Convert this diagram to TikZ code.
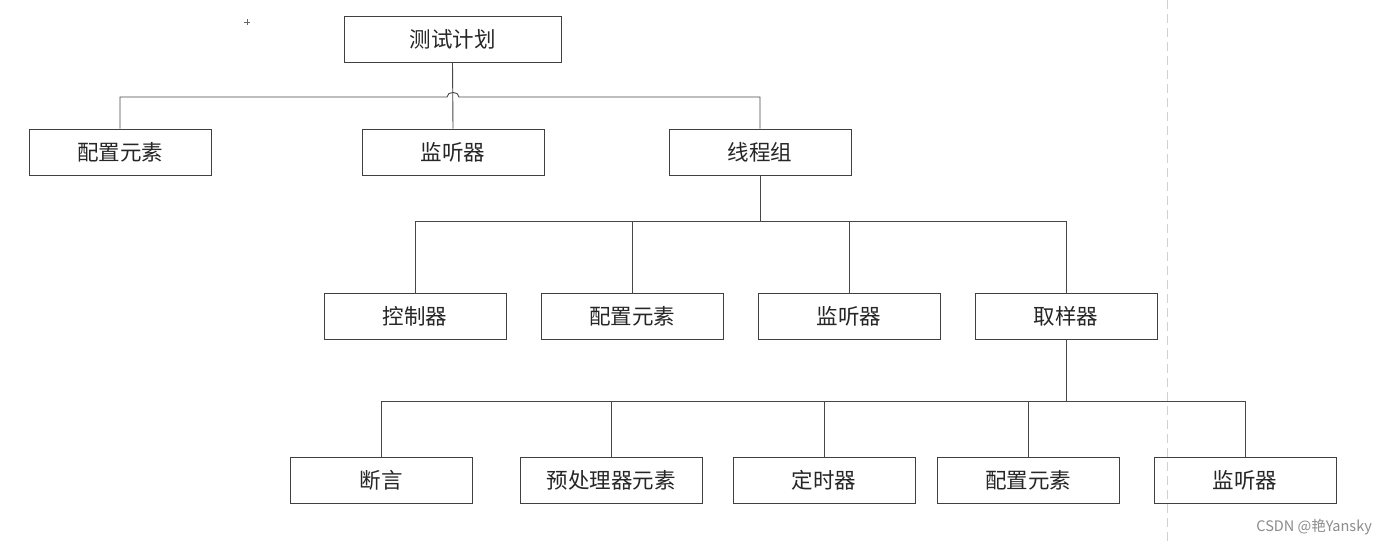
\documentclass[tikz,border=0pt]{standalone}
\usepackage{fontspec}
\setmainfont{Noto Sans CJK SC}
\begin{document}
\begin{tikzpicture}[x=1pt,y=-1pt,
  box/.style={draw=black!75,line width=0.9pt,minimum width=182pt,minimum height=46pt,inner sep=0pt,font=\fontsize{21.5}{23}\selectfont,text=black!85},
  link/.style={draw=black!72,line width=0.9pt}]
\useasboundingbox[fill=white] (0,0) rectangle (1387,544);
\draw[black!18,line width=1pt,dash pattern=on 9pt off 5pt] (1167,0) -- (1167,544);
\draw[black!60,line width=0.8pt] (244,22) -- (250,22) (247,19) -- (247,25);
% level 0
\node[box,minimum width=217pt] (tp) at (452.5,39) {测试计划};
% level 1
\node[box] (c1) at (120,152) {配置元素};
\node[box] (l1) at (453,152) {监听器};
\node[box] (tg) at (760,152) {线程组};
% level 2
\node[box] (ctrl) at (415,316) {控制器};
\node[box] (c2) at (632,316) {配置元素};
\node[box] (l2) at (849,316) {监听器};
\node[box] (smp) at (1066,316) {取样器};
% level 3
\node[box] (as) at (381,480) {断言};
\node[box] (pre) at (611,480) {预处理器元素};
\node[box] (tm) at (824,480) {定时器};
\node[box] (c3) at (1028,480) {配置元素};
\node[box] (l3) at (1245,480) {监听器};
% connectors level 1
\coordinate (hopL) at (447,97);
\coordinate (hopR) at (459,97);
\draw[link] (tp.south) -- (l1.north);
\draw[link] (c1.north) |- (hopL) to[out=90,in=90,looseness=1.3] (hopR) -| (tg.north);
% level 2
\coordinate (tgj) at (760,221);
\draw[link] (tg.south) -- (tgj);
\draw[link] (ctrl.north) -- (ctrl.north |- tgj) -- (smp.north |- tgj) -- (smp.north);
\draw[link] (c2.north) -- (c2.north |- tgj);
\draw[link] (l2.north) -- (l2.north |- tgj);
% level 3
\coordinate (smj) at (1066,401);
\draw[link] (smp.south) -- (smj);
\draw[link] (as.north) -- (as.north |- smj) -- (l3.north |- smj) -- (l3.north);
\draw[link] (pre.north) -- (pre.north |- smj);
\draw[link] (tm.north) -- (tm.north |- smj);
\draw[link] (c3.north) -- (c3.north |- smj);
% watermark
\node[text=black!45,font=\fontsize{14.5}{16}\selectfont,anchor=east,inner sep=0pt] (wm) at (1372,527) {CSDN @艳Yansky};
\end{tikzpicture}
\end{document}
